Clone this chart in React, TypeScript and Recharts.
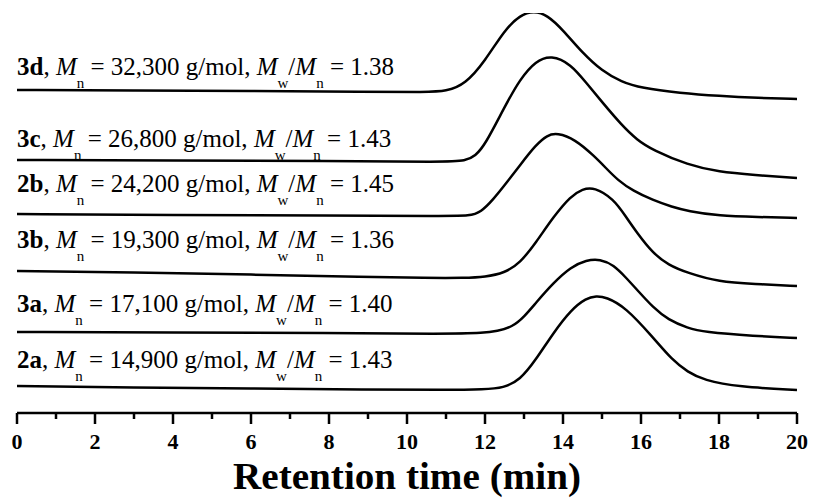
import { Customized, Line, LineChart, XAxis, YAxis } from "recharts"

// GPC traces, stacked. Signal in arbitrary units (offset already applied).
const TIMES_3D = [0, 3, 6, 9, 10.5, 11, 11.5, 12, 12.5, 12.9, 13.25, 13.6, 14, 14.5, 15, 15.5, 16, 17, 18, 19, 20]
const SIGNAL_3D = [323, 322.5, 322, 321, 321, 321.5, 329, 352, 383, 398, 402, 398, 383, 360, 342, 331, 325, 320, 317, 315, 314]

const TIMES_3C = [0, 4, 8, 11, 11.5, 11.75, 12, 12.5, 12.9, 13.3, 13.7, 14.2, 14.6, 15, 15.5, 15.9, 16.3, 17.2, 18, 18.9, 20]
const SIGNAL_3C = [253, 252.5, 252, 251, 252, 257, 268, 306, 334, 352, 358, 349, 330, 311, 288, 273, 263, 248, 241, 238, 235]

const TIMES_2B = [0, 4, 8, 11, 11.6, 11.9, 12.2, 12.55, 12.9, 13.3, 13.6, 13.85, 14.3, 14.8, 15.1, 15.4, 15.8, 16.3, 16.8, 17.2, 18, 19, 20]
const SIGNAL_2B = [199, 198, 197.5, 197, 197, 201, 213, 230, 248, 268, 278, 280, 274, 257, 245, 233, 222, 213, 206, 202, 197, 196, 195]

const TIMES_3B = [0, 3, 6, 9, 10.5, 11.5, 12, 12.5, 12.9, 13.3, 13.75, 14.2, 14.5, 14.8, 15.3, 15.6, 15.9, 16.3, 16.7, 17.2, 18, 18.9, 20]
const SIGNAL_3B = [142, 140.5, 138.5, 136, 135, 135, 136, 140, 150, 170, 196, 217, 224, 226, 214, 197, 180, 160, 148, 140, 131, 129, 127]

const TIMES_3A = [0, 4, 8, 11, 12, 12.3, 12.7, 13, 13.3, 13.75, 14.2, 14.6, 14.95, 15.3, 15.6, 15.95, 16.3, 16.7, 17.2, 17.6, 18.9, 20]
const SIGNAL_3A = [81, 80.5, 80, 79, 80, 82, 86, 96, 110, 130, 146, 153, 154, 148, 136, 121, 106, 93, 85, 81, 77, 75]

const TIMES_2A = [0, 3, 6, 9, 11, 12, 12.47, 12.9, 13.3, 13.75, 14.2, 14.6, 14.85, 15.1, 15.6, 16.3, 16.8, 17.2, 17.6, 18.5, 20]
const SIGNAL_2A = [27, 25.5, 24.5, 23.5, 23, 23.5, 25, 33, 53, 80, 103, 115, 117, 116, 106, 76, 53, 41, 33, 26, 23]

const SAMPLES = ["3d", "3c", "2b", "3b", "3a", "2a"]
const MN = ["32,300", "26,800", "24,200", "19,300", "17,100", "14,900"]
const PDI = ["1.38", "1.43", "1.45", "1.36", "1.40", "1.43"]
const X_TICKS = [0, 1, 2, 3, 4, 5, 6, 7, 8, 9, 10, 11, 12, 13, 14, 15, 16, 17, 18, 19, 20]

const traces = [
  [TIMES_3D, SIGNAL_3D],
  [TIMES_3C, SIGNAL_3C],
  [TIMES_2B, SIGNAL_2B],
  [TIMES_3B, SIGNAL_3B],
  [TIMES_3A, SIGNAL_3A],
  [TIMES_2A, SIGNAL_2A],
].map(([t, v], i) => ({
  name: SAMPLES[i],
  points: t.map((time, j) => ({ t: time, v: v[j] })),
}))

const FONT = '"Liberation Serif", "Times New Roman", serif'
// baselines of the annotation text (px)
const LABEL_Y = [75, 147, 192, 248, 312, 368]

function TimeTick(props: any) {
  const { x, y, payload } = props
  const major = payload.value % 2 === 0
  return (
    <g>
      <line x1={x} x2={x} y1={y} y2={y + (major ? 11 : 6)} stroke="#000" strokeWidth={2.5} />
      {major && (
        <text x={x} y={y + 36} textAnchor="middle" fontSize={22} fontWeight="bold" fontFamily={FONT} fill="#000">
          {payload.value}
        </text>
      )}
    </g>
  )
}

function Annotations() {
  return (
    <g fontFamily={FONT} fill="#000">
      {SAMPLES.map((s, i) => (
        <text key={s} x={17} y={LABEL_Y[i]} fontSize={25}>
          <tspan fontWeight="bold">{s}</tspan>
          <tspan>{", "}</tspan>
          <tspan fontStyle="italic">M</tspan>
          <tspan dy={13} fontSize={15}>n</tspan>
          <tspan dy={-13}>{" = " + MN[i] + " g/mol, "}</tspan>
          <tspan fontStyle="italic">M</tspan>
          <tspan dy={13} fontSize={15}>w</tspan>
          <tspan dy={-13}>/</tspan>
          <tspan fontStyle="italic">M</tspan>
          <tspan dy={13} fontSize={15}>n</tspan>
          <tspan dy={-13}>{" = " + PDI[i]}</tspan>
        </text>
      ))}
      <text
        x={407}
        y={489}
        textAnchor="middle"
        fontSize={38}
        fontWeight="bold"
        textLength={348}
        lengthAdjust="spacingAndGlyphs"
      >
        Retention time (min)
      </text>
    </g>
  )
}

export default function App() {
  return (
    <div style={{ width: 813, height: 498, background: "#fff" }}>
      <style>{"body{margin:0}"}</style>
      <LineChart width={813} height={498} margin={{ top: 13, right: 16, left: 17, bottom: 0 }}>
        <XAxis
          dataKey="t"
          type="number"
          domain={[0, 20]}
          ticks={X_TICKS}
          interval={0}
          height={85}
          tickSize={0}
          tickMargin={0}
          tickLine={false}
          axisLine={{ stroke: "#000", strokeWidth: 2.5 }}
          tick={<TimeTick />}
          allowDataOverflow
        />
        <YAxis type="number" domain={[0, 400]} hide allowDataOverflow />
        {traces.map((tr) => (
          <Line
            key={tr.name}
            data={tr.points}
            dataKey="v"
            type="basis"
            stroke="#000"
            strokeWidth={2.5}
            dot={false}
            activeDot={false}
            isAnimationActive={false}
          />
        ))}
        <Customized component={Annotations} />
      </LineChart>
    </div>
  )
}
